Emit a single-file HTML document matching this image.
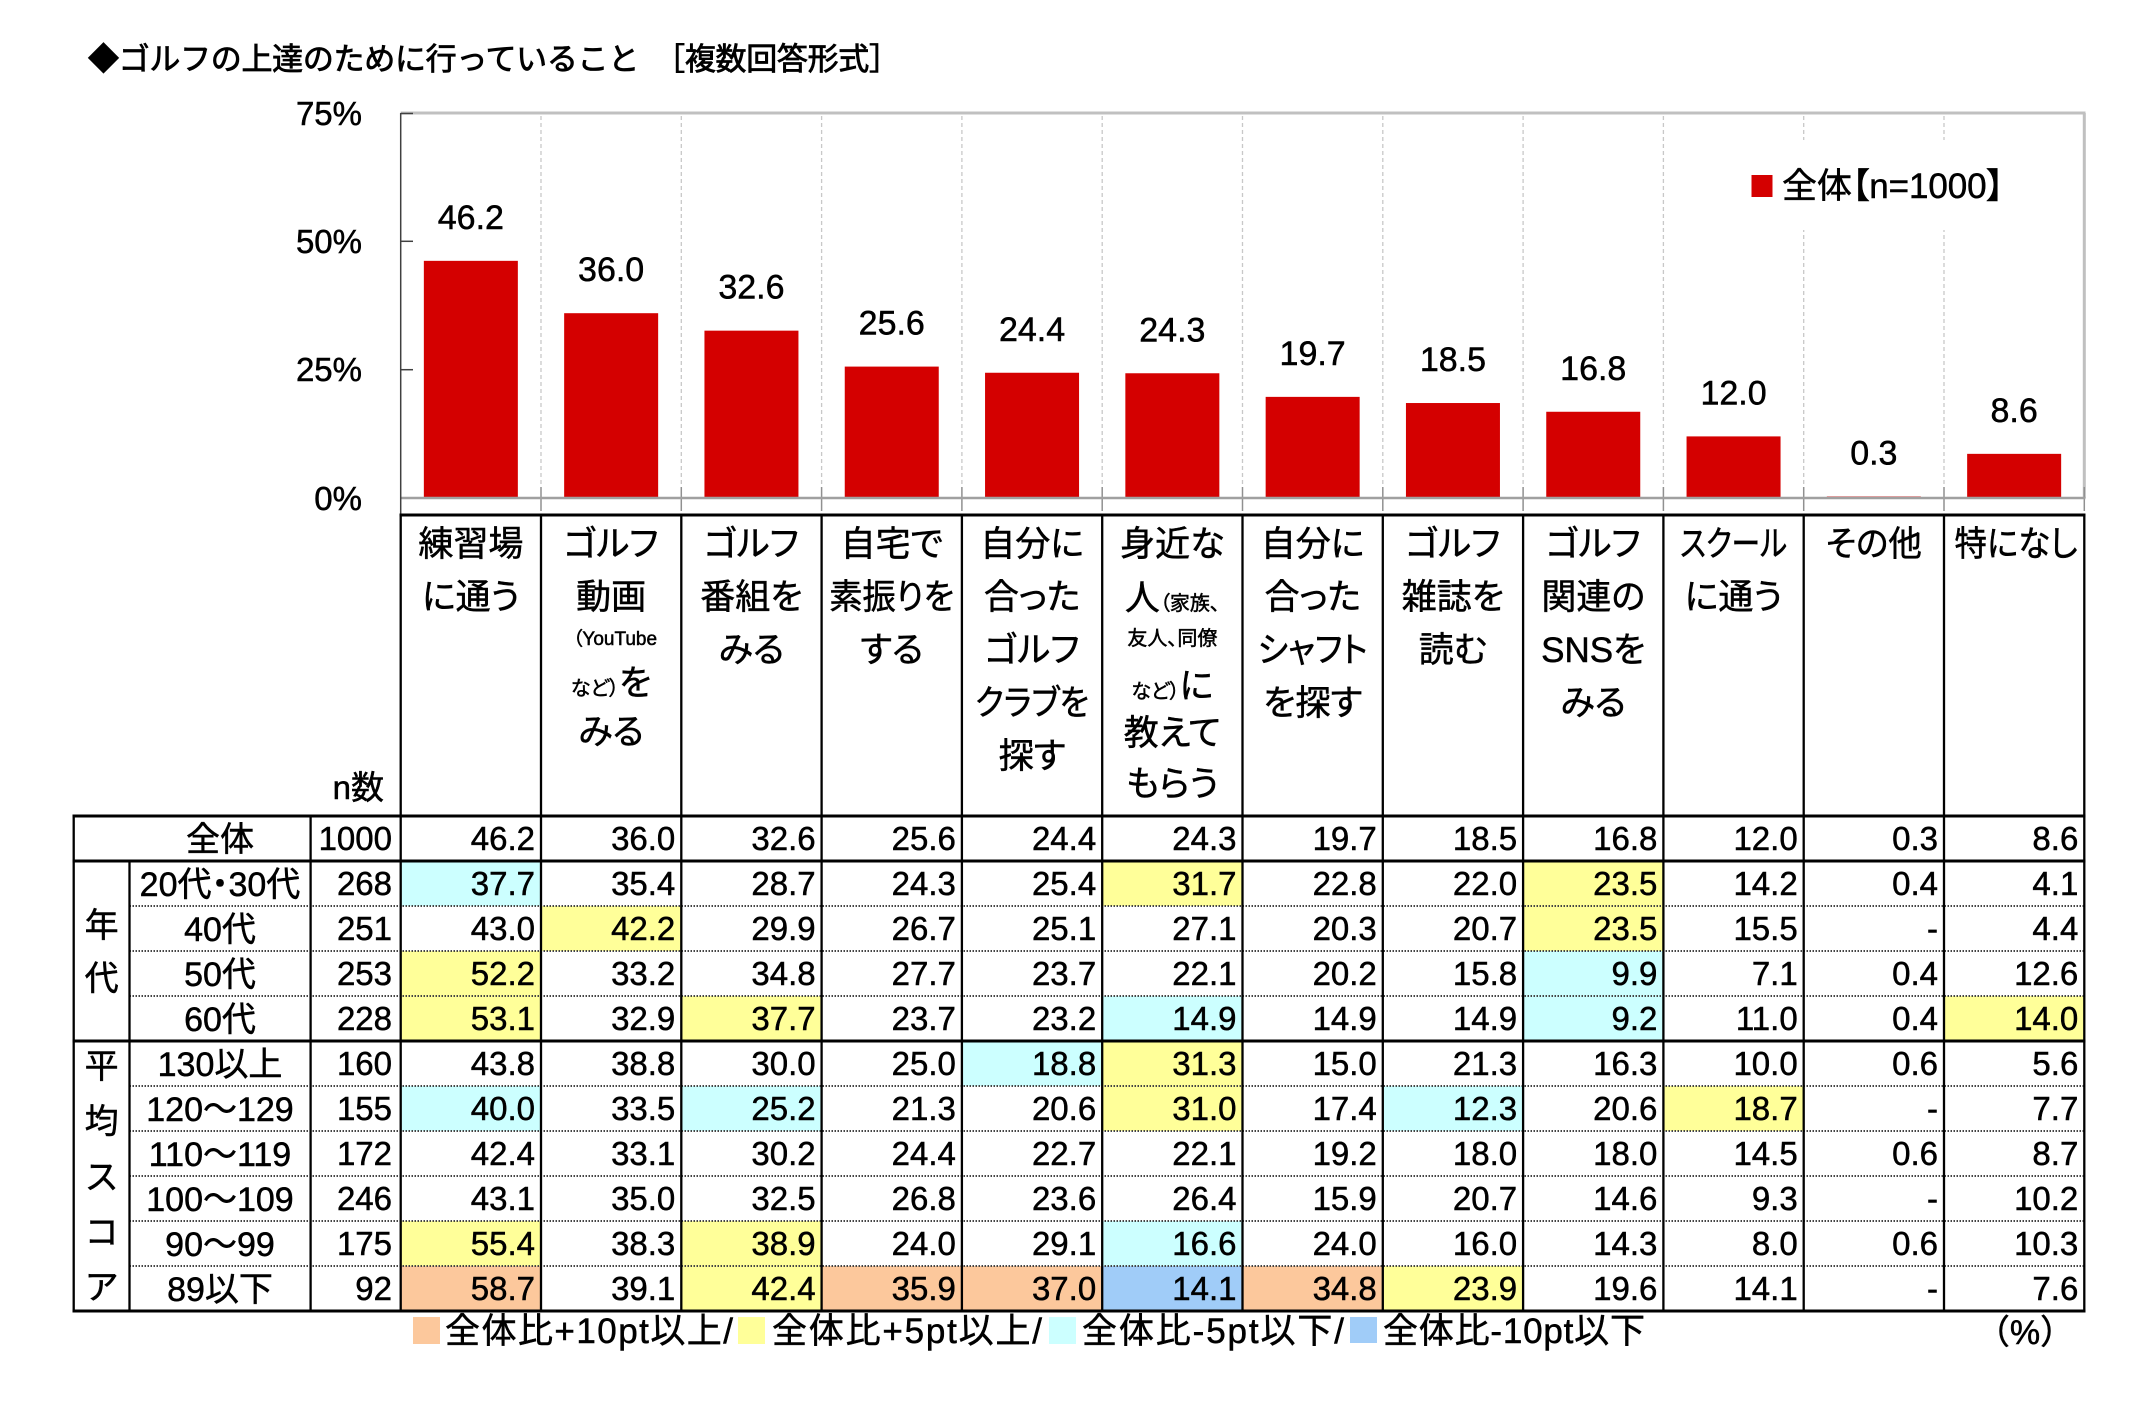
<!DOCTYPE html>
<html><head><meta charset="utf-8">
<style>
html,body{margin:0;padding:0;background:#fff;}
svg{display:block;}
.t{font-family:"Liberation Sans","Noto Sans CJK JP",sans-serif;fill:#000;stroke:#000;stroke-width:0.5px;}
.h{font-size:35px;text-anchor:middle;font-feature-settings:"palt";}
.n{font-size:33px;text-anchor:end;}
.l{font-size:34px;text-anchor:middle;font-feature-settings:"palt";}
.v{font-size:34px;text-anchor:middle;}
.b{font-size:34px;text-anchor:middle;}
.a{font-size:33px;text-anchor:end;}
</style></head>
<body>
<svg width="2141" height="1403" viewBox="0 0 2141 1403" xmlns="http://www.w3.org/2000/svg">
<rect x="0" y="0" width="2141" height="1403" fill="#fff"/>

<!-- Title -->
<text class="t" x="88" y="70" style="font-size:31px;stroke-width:0.8px" textLength="812">◆ゴルフの上達のために行っていること　［複数回答形式］</text>

<!-- Chart frame -->
<g stroke="#c8c8c8" stroke-width="1.3" stroke-dasharray="4 3">
<line x1="541.0" y1="116" x2="541.0" y2="487"/>
<line x1="681.3" y1="116" x2="681.3" y2="487"/>
<line x1="821.6" y1="116" x2="821.6" y2="487"/>
<line x1="961.9" y1="116" x2="961.9" y2="487"/>
<line x1="1102.2" y1="116" x2="1102.2" y2="487"/>
<line x1="1242.5" y1="116" x2="1242.5" y2="487"/>
<line x1="1382.8" y1="116" x2="1382.8" y2="487"/>
<line x1="1523.1" y1="116" x2="1523.1" y2="487"/>
<line x1="1663.4" y1="116" x2="1663.4" y2="487"/>
<line x1="1803.7" y1="116" x2="1803.7" y2="487"/>
<line x1="1944.0" y1="116" x2="1944.0" y2="487"/>
</g>
<line x1="400.7" y1="113" x2="2085.5" y2="113" stroke="#c0c0c0" stroke-width="3"/>
<line x1="2084.3" y1="113" x2="2084.3" y2="498" stroke="#c0c0c0" stroke-width="3"/>

<!-- Legend -->
<rect x="1745" y="140" width="265" height="90" fill="#fff"/>
<rect x="1751.5" y="175" width="21" height="22" fill="#d40000"/>
<text class="t" x="1782" y="198" style="font-size:35px;font-feature-settings:'palt'" textLength="222">全体【n=1000】</text>

<!-- Bars -->
<g fill="#d40000">
<rect x="423.85" y="260.84" width="94" height="237.16"/>
<rect x="564.15" y="313.2" width="94" height="184.8"/>
<rect x="704.45" y="330.65" width="94" height="167.35"/>
<rect x="844.75" y="366.59" width="94" height="131.41"/>
<rect x="985.05" y="372.75" width="94" height="125.25"/>
<rect x="1125.35" y="373.26" width="94" height="124.74"/>
<rect x="1265.65" y="396.87" width="94" height="101.13"/>
<rect x="1405.95" y="403.03" width="94" height="94.97"/>
<rect x="1546.25" y="411.76" width="94" height="86.24"/>
<rect x="1686.55" y="436.4" width="94" height="61.6"/>
<rect x="1826.85" y="496.46" width="94" height="1.54"/>
<rect x="1967.15" y="453.85" width="94" height="44.15"/>
</g>

<!-- category ticks -->
<g stroke="#909090" stroke-width="1.5">
<line x1="541.0" y1="487" x2="541.0" y2="511"/>
<line x1="681.3" y1="487" x2="681.3" y2="511"/>
<line x1="821.6" y1="487" x2="821.6" y2="511"/>
<line x1="961.9" y1="487" x2="961.9" y2="511"/>
<line x1="1102.2" y1="487" x2="1102.2" y2="511"/>
<line x1="1242.5" y1="487" x2="1242.5" y2="511"/>
<line x1="1382.8" y1="487" x2="1382.8" y2="511"/>
<line x1="1523.1" y1="487" x2="1523.1" y2="511"/>
<line x1="1663.4" y1="487" x2="1663.4" y2="511"/>
<line x1="1803.7" y1="487" x2="1803.7" y2="511"/>
<line x1="1944.0" y1="487" x2="1944.0" y2="511"/>
<line x1="2084.3" y1="487" x2="2084.3" y2="511"/>
</g>
<line x1="400.7" y1="498" x2="2085.5" y2="498" stroke="#a0a0a0" stroke-width="2.5"/>
<line x1="400.7" y1="113" x2="400.7" y2="515" stroke="#404040" stroke-width="1.5"/>
<g stroke="#404040" stroke-width="1.5">
<line x1="400.7" y1="113.5" x2="413" y2="113.5"/>
<line x1="400.7" y1="241.3" x2="413" y2="241.3"/>
<line x1="400.7" y1="369.7" x2="413" y2="369.7"/>
</g>

<!-- Axis labels -->
<text class="t a" x="362" y="125">75%</text>
<text class="t a" x="362" y="253">50%</text>
<text class="t a" x="362" y="381">25%</text>
<text class="t a" x="362" y="510">0%</text>

<!-- Data labels -->
<text class="t b" x="470.85" y="229">46.2</text>
<text class="t b" x="611.15" y="281.2">36.0</text>
<text class="t b" x="751.45" y="298.7">32.6</text>
<text class="t b" x="891.75" y="334.6">25.6</text>
<text class="t b" x="1032.05" y="340.8">24.4</text>
<text class="t b" x="1172.35" y="341.3">24.3</text>
<text class="t b" x="1312.65" y="364.9">19.7</text>
<text class="t b" x="1452.95" y="371">18.5</text>
<text class="t b" x="1593.25" y="379.8">16.8</text>
<text class="t b" x="1733.55" y="404.4">12.0</text>
<text class="t b" x="1873.85" y="464.5">0.3</text>
<text class="t b" x="2014.15" y="421.9">8.6</text>

<!-- Table cell fills -->
<g>
<rect x="400.7" y="861" width="140.3" height="45" fill="#ccffff"/>
<rect x="1102.2" y="861" width="140.3" height="45" fill="#ffff99"/>
<rect x="1523.1" y="861" width="140.3" height="45" fill="#ffff99"/>
<rect x="541.0" y="906" width="140.3" height="45" fill="#ffff99"/>
<rect x="1523.1" y="906" width="140.3" height="45" fill="#ffff99"/>
<rect x="400.7" y="951" width="140.3" height="45" fill="#ffff99"/>
<rect x="1523.1" y="951" width="140.3" height="45" fill="#ccffff"/>
<rect x="400.7" y="996" width="140.3" height="45" fill="#ffff99"/>
<rect x="681.3" y="996" width="140.3" height="45" fill="#ffff99"/>
<rect x="1102.2" y="996" width="140.3" height="45" fill="#ccffff"/>
<rect x="1523.1" y="996" width="140.3" height="45" fill="#ccffff"/>
<rect x="1944.0" y="996" width="140.3" height="45" fill="#ffff99"/>
<rect x="961.9" y="1041" width="140.3" height="45" fill="#ccffff"/>
<rect x="1102.2" y="1041" width="140.3" height="45" fill="#ffff99"/>
<rect x="400.7" y="1086" width="140.3" height="45" fill="#ccffff"/>
<rect x="681.3" y="1086" width="140.3" height="45" fill="#ccffff"/>
<rect x="1102.2" y="1086" width="140.3" height="45" fill="#ffff99"/>
<rect x="1382.8" y="1086" width="140.3" height="45" fill="#ccffff"/>
<rect x="1663.4" y="1086" width="140.3" height="45" fill="#ffff99"/>
<rect x="400.7" y="1221" width="140.3" height="45" fill="#ffff99"/>
<rect x="681.3" y="1221" width="140.3" height="45" fill="#ffff99"/>
<rect x="1102.2" y="1221" width="140.3" height="45" fill="#ccffff"/>
<rect x="400.7" y="1266" width="140.3" height="45" fill="#fcc89c"/>
<rect x="681.3" y="1266" width="140.3" height="45" fill="#ffff99"/>
<rect x="821.6" y="1266" width="140.3" height="45" fill="#fcc89c"/>
<rect x="961.9" y="1266" width="140.3" height="45" fill="#fcc89c"/>
<rect x="1102.2" y="1266" width="140.3" height="45" fill="#a0ccf8"/>
<rect x="1242.5" y="1266" width="140.3" height="45" fill="#fcc89c"/>
<rect x="1382.8" y="1266" width="140.3" height="45" fill="#ffff99"/>
</g>

<!-- Dotted row separators -->
<g stroke="#444" stroke-width="2" stroke-dasharray="1.5 1.5">
<line x1="129.5" y1="906" x2="2084.3" y2="906"/>
<line x1="129.5" y1="951" x2="2084.3" y2="951"/>
<line x1="129.5" y1="996" x2="2084.3" y2="996"/>
<line x1="129.5" y1="1086" x2="2084.3" y2="1086"/>
<line x1="129.5" y1="1131" x2="2084.3" y2="1131"/>
<line x1="129.5" y1="1176" x2="2084.3" y2="1176"/>
<line x1="129.5" y1="1221" x2="2084.3" y2="1221"/>
<line x1="129.5" y1="1266" x2="2084.3" y2="1266"/>
</g>

<!-- Vertical lines -->
<g stroke="#000" stroke-width="2.3">
<line x1="73.7" y1="816" x2="73.7" y2="1312"/>
<line x1="129.5" y1="861" x2="129.5" y2="1312"/>
<line x1="310.6" y1="816" x2="310.6" y2="1312"/>
<line x1="400.7" y1="515" x2="400.7" y2="1312"/>
<line x1="541.0" y1="515" x2="541.0" y2="1312"/>
<line x1="681.3" y1="515" x2="681.3" y2="1312"/>
<line x1="821.6" y1="515" x2="821.6" y2="1312"/>
<line x1="961.9" y1="515" x2="961.9" y2="1312"/>
<line x1="1102.2" y1="515" x2="1102.2" y2="1312"/>
<line x1="1242.5" y1="515" x2="1242.5" y2="1312"/>
<line x1="1382.8" y1="515" x2="1382.8" y2="1312"/>
<line x1="1523.1" y1="515" x2="1523.1" y2="1312"/>
<line x1="1663.4" y1="515" x2="1663.4" y2="1312"/>
<line x1="1803.7" y1="515" x2="1803.7" y2="1312"/>
<line x1="1944.0" y1="515" x2="1944.0" y2="1312"/>
<line x1="2084.3" y1="515" x2="2084.3" y2="1312"/>
</g>
<!-- Thick horizontals -->
<g stroke="#000" stroke-width="3">
<line x1="399.5" y1="515" x2="2085.5" y2="515"/>
<line x1="72.5" y1="816" x2="2085.5" y2="816"/>
<line x1="72.5" y1="861" x2="2085.5" y2="861"/>
<line x1="72.5" y1="1041" x2="2085.5" y2="1041"/>
<line x1="72.5" y1="1311" x2="2085.5" y2="1311"/>
</g>

<!-- Header texts -->
<text class="t h" x="470.85" y="556">練習場</text>
<text class="t h" x="470.85" y="609">に通う</text>

<text class="t h" x="611.15" y="556">ゴルフ</text>
<text class="t h" x="611.15" y="609">動画</text>
<text class="t h" x="615" y="645" style="font-size:19px">（YouTube</text>
<text class="t h" x="611.15" y="695"><tspan style="font-size:20px">など）</tspan>を</text>
<text class="t h" x="611.15" y="744">みる</text>

<text class="t h" x="751.45" y="556">ゴルフ</text>
<text class="t h" x="751.45" y="609">番組を</text>
<text class="t h" x="751.45" y="662">みる</text>

<text class="t h" x="891.75" y="556">自宅で</text>
<text class="t h" x="891.75" y="609" textLength="125" lengthAdjust="spacingAndGlyphs">素振りを</text>
<text class="t h" x="891.75" y="662">する</text>

<text class="t h" x="1032.05" y="556">自分に</text>
<text class="t h" x="1032.05" y="609">合った</text>
<text class="t h" x="1032.05" y="662">ゴルフ</text>
<text class="t h" x="1032.05" y="715" textLength="114" lengthAdjust="spacingAndGlyphs">クラブを</text>
<text class="t h" x="1032.05" y="768">探す</text>

<text class="t h" x="1172.35" y="556">身近な</text>
<text class="t h" x="1172.35" y="610">人<tspan style="font-size:20px">（家族、</tspan></text>
<text class="t h" x="1172.35" y="645" style="font-size:20px">友人、同僚</text>
<text class="t h" x="1172.35" y="698"><tspan style="font-size:20px">など）</tspan>に</text>
<text class="t h" x="1172.35" y="745">教えて</text>
<text class="t h" x="1172.35" y="796">もらう</text>

<text class="t h" x="1312.65" y="556">自分に</text>
<text class="t h" x="1312.65" y="609">合った</text>
<text class="t h" x="1312.65" y="662" textLength="110" lengthAdjust="spacingAndGlyphs">シャフト</text>
<text class="t h" x="1312.65" y="715">を探す</text>

<text class="t h" x="1452.95" y="556">ゴルフ</text>
<text class="t h" x="1452.95" y="609">雑誌を</text>
<text class="t h" x="1452.95" y="662">読む</text>

<text class="t h" x="1593.25" y="556">ゴルフ</text>
<text class="t h" x="1593.25" y="609">関連の</text>
<text class="t h" x="1593.25" y="662">SNSを</text>
<text class="t h" x="1593.25" y="715">みる</text>

<text class="t h" x="1733.55" y="556" textLength="107" lengthAdjust="spacingAndGlyphs">スクール</text>
<text class="t h" x="1733.55" y="609">に通う</text>

<text class="t h" x="1873.85" y="556" textLength="96" lengthAdjust="spacingAndGlyphs">その他</text>

<text class="t h" x="2016" y="556" textLength="123" lengthAdjust="spacingAndGlyphs">特になし</text>

<text class="t" x="384" y="799" style="font-size:33px" text-anchor="end">n数</text>

<!-- Row labels -->
<text class="t l" x="220" y="851">全体</text>
<text class="t l" x="220" y="896">20代・30代</text>
<text class="t l" x="220" y="941">40代</text>
<text class="t l" x="220" y="986">50代</text>
<text class="t l" x="220" y="1031">60代</text>
<text class="t l" x="220" y="1076">130以上</text>
<text class="t l" x="220" y="1121">120～129</text>
<text class="t l" x="220" y="1166">110～119</text>
<text class="t l" x="220" y="1211">100～109</text>
<text class="t l" x="220" y="1256">90～99</text>
<text class="t l" x="220" y="1301">89以下</text>

<!-- Vertical group labels -->
<text class="t v" x="101.6" y="937">年</text>
<text class="t v" x="101.6" y="990">代</text>
<text class="t v" x="101.6" y="1078">平</text>
<text class="t v" x="101.6" y="1133">均</text>
<text class="t v" x="101.6" y="1189">ス</text>
<text class="t v" x="101.6" y="1244">コ</text>
<text class="t v" x="101.6" y="1299">ア</text>

<!-- Numbers -->
<text class="t n" y="850"><tspan x="392">1000</tspan><tspan x="535">46.2</tspan><tspan x="675.3">36.0</tspan><tspan x="815.6">32.6</tspan><tspan x="955.9">25.6</tspan><tspan x="1096.2">24.4</tspan><tspan x="1236.5">24.3</tspan><tspan x="1376.8">19.7</tspan><tspan x="1517.1">18.5</tspan><tspan x="1657.4">16.8</tspan><tspan x="1797.7">12.0</tspan><tspan x="1938">0.3</tspan><tspan x="2078.3">8.6</tspan></text>
<text class="t n" y="895"><tspan x="392">268</tspan><tspan x="535">37.7</tspan><tspan x="675.3">35.4</tspan><tspan x="815.6">28.7</tspan><tspan x="955.9">24.3</tspan><tspan x="1096.2">25.4</tspan><tspan x="1236.5">31.7</tspan><tspan x="1376.8">22.8</tspan><tspan x="1517.1">22.0</tspan><tspan x="1657.4">23.5</tspan><tspan x="1797.7">14.2</tspan><tspan x="1938">0.4</tspan><tspan x="2078.3">4.1</tspan></text>
<text class="t n" y="940"><tspan x="392">251</tspan><tspan x="535">43.0</tspan><tspan x="675.3">42.2</tspan><tspan x="815.6">29.9</tspan><tspan x="955.9">26.7</tspan><tspan x="1096.2">25.1</tspan><tspan x="1236.5">27.1</tspan><tspan x="1376.8">20.3</tspan><tspan x="1517.1">20.7</tspan><tspan x="1657.4">23.5</tspan><tspan x="1797.7">15.5</tspan><tspan x="1938">-</tspan><tspan x="2078.3">4.4</tspan></text>
<text class="t n" y="985"><tspan x="392">253</tspan><tspan x="535">52.2</tspan><tspan x="675.3">33.2</tspan><tspan x="815.6">34.8</tspan><tspan x="955.9">27.7</tspan><tspan x="1096.2">23.7</tspan><tspan x="1236.5">22.1</tspan><tspan x="1376.8">20.2</tspan><tspan x="1517.1">15.8</tspan><tspan x="1657.4">9.9</tspan><tspan x="1797.7">7.1</tspan><tspan x="1938">0.4</tspan><tspan x="2078.3">12.6</tspan></text>
<text class="t n" y="1030"><tspan x="392">228</tspan><tspan x="535">53.1</tspan><tspan x="675.3">32.9</tspan><tspan x="815.6">37.7</tspan><tspan x="955.9">23.7</tspan><tspan x="1096.2">23.2</tspan><tspan x="1236.5">14.9</tspan><tspan x="1376.8">14.9</tspan><tspan x="1517.1">14.9</tspan><tspan x="1657.4">9.2</tspan><tspan x="1797.7">11.0</tspan><tspan x="1938">0.4</tspan><tspan x="2078.3">14.0</tspan></text>
<text class="t n" y="1075"><tspan x="392">160</tspan><tspan x="535">43.8</tspan><tspan x="675.3">38.8</tspan><tspan x="815.6">30.0</tspan><tspan x="955.9">25.0</tspan><tspan x="1096.2">18.8</tspan><tspan x="1236.5">31.3</tspan><tspan x="1376.8">15.0</tspan><tspan x="1517.1">21.3</tspan><tspan x="1657.4">16.3</tspan><tspan x="1797.7">10.0</tspan><tspan x="1938">0.6</tspan><tspan x="2078.3">5.6</tspan></text>
<text class="t n" y="1120"><tspan x="392">155</tspan><tspan x="535">40.0</tspan><tspan x="675.3">33.5</tspan><tspan x="815.6">25.2</tspan><tspan x="955.9">21.3</tspan><tspan x="1096.2">20.6</tspan><tspan x="1236.5">31.0</tspan><tspan x="1376.8">17.4</tspan><tspan x="1517.1">12.3</tspan><tspan x="1657.4">20.6</tspan><tspan x="1797.7">18.7</tspan><tspan x="1938">-</tspan><tspan x="2078.3">7.7</tspan></text>
<text class="t n" y="1165"><tspan x="392">172</tspan><tspan x="535">42.4</tspan><tspan x="675.3">33.1</tspan><tspan x="815.6">30.2</tspan><tspan x="955.9">24.4</tspan><tspan x="1096.2">22.7</tspan><tspan x="1236.5">22.1</tspan><tspan x="1376.8">19.2</tspan><tspan x="1517.1">18.0</tspan><tspan x="1657.4">18.0</tspan><tspan x="1797.7">14.5</tspan><tspan x="1938">0.6</tspan><tspan x="2078.3">8.7</tspan></text>
<text class="t n" y="1210"><tspan x="392">246</tspan><tspan x="535">43.1</tspan><tspan x="675.3">35.0</tspan><tspan x="815.6">32.5</tspan><tspan x="955.9">26.8</tspan><tspan x="1096.2">23.6</tspan><tspan x="1236.5">26.4</tspan><tspan x="1376.8">15.9</tspan><tspan x="1517.1">20.7</tspan><tspan x="1657.4">14.6</tspan><tspan x="1797.7">9.3</tspan><tspan x="1938">-</tspan><tspan x="2078.3">10.2</tspan></text>
<text class="t n" y="1255"><tspan x="392">175</tspan><tspan x="535">55.4</tspan><tspan x="675.3">38.3</tspan><tspan x="815.6">38.9</tspan><tspan x="955.9">24.0</tspan><tspan x="1096.2">29.1</tspan><tspan x="1236.5">16.6</tspan><tspan x="1376.8">24.0</tspan><tspan x="1517.1">16.0</tspan><tspan x="1657.4">14.3</tspan><tspan x="1797.7">8.0</tspan><tspan x="1938">0.6</tspan><tspan x="2078.3">10.3</tspan></text>
<text class="t n" y="1300"><tspan x="392">92</tspan><tspan x="535">58.7</tspan><tspan x="675.3">39.1</tspan><tspan x="815.6">42.4</tspan><tspan x="955.9">35.9</tspan><tspan x="1096.2">37.0</tspan><tspan x="1236.5">14.1</tspan><tspan x="1376.8">34.8</tspan><tspan x="1517.1">23.9</tspan><tspan x="1657.4">19.6</tspan><tspan x="1797.7">14.1</tspan><tspan x="1938">-</tspan><tspan x="2078.3">7.6</tspan></text>

<!-- Bottom legend -->
<rect x="413" y="1317" width="27" height="27" fill="#fcc89c"/>
<text class="t" x="445" y="1343" style="font-size:35px" textLength="288">全体比+10pt以上/</text>
<rect x="738" y="1317" width="27" height="27" fill="#ffff99"/>
<text class="t" x="772" y="1343" style="font-size:35px" textLength="270">全体比+5pt以上/</text>
<rect x="1049" y="1317" width="27" height="27" fill="#ccffff"/>
<text class="t" x="1082" y="1343" style="font-size:35px" textLength="262">全体比-5pt以下/</text>
<rect x="1350" y="1317" width="27" height="26" fill="#a0ccf8"/>
<text class="t" x="1383" y="1343" style="font-size:35px" textLength="262">全体比-10pt以下</text>
<text class="t" x="2025" y="1344" style="font-size:34px" text-anchor="middle">（%）</text>
</svg>
</body></html>
